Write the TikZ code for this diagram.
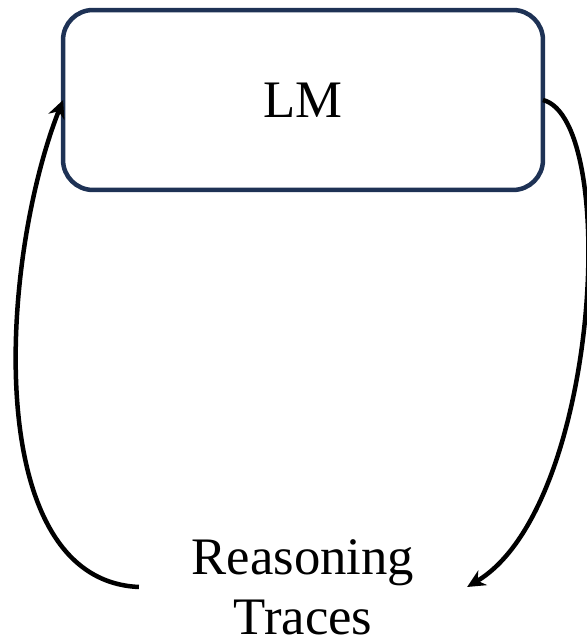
\documentclass[tikz,border=0pt]{standalone}
\usepackage{fontspec}
\setmainfont{Liberation Serif}
\usetikzlibrary{arrows.meta}
\definecolor{navy}{RGB}{30,50,85}

\begin{document}
\begin{tikzpicture}[x=0.02cm,y=0.02cm,
    box/.style={draw=navy,line width=0.09cm,rounded corners=0.6cm,
      minimum width=9.6cm,minimum height=3.6cm,outer sep=0pt,
      font=\fontsize{30}{34}\selectfont},
    lbl/.style={align=center,inner xsep=1.05cm,inner ysep=0pt,
      font=\fontsize{30}{34}\selectfont},
    arr/.style={line width=0.09cm,-{Stealth[length=3.6mm,width=3.4mm]}}]
  \useasboundingbox (0,0) rectangle (587,641);
  \node[box] (lm) at (303,541) {LM};
  \node[lbl] (rt) at (303,54) {Reasoning\\Traces};
  % loop: LM -> traces -> LM
  \draw[arr] (lm.east) .. controls (620,521) and (600,133) .. (rt.east);
  \draw[arr] (rt.west) .. controls (-20,61) and (0,381) .. (lm.west);
\end{tikzpicture}
\end{document}
